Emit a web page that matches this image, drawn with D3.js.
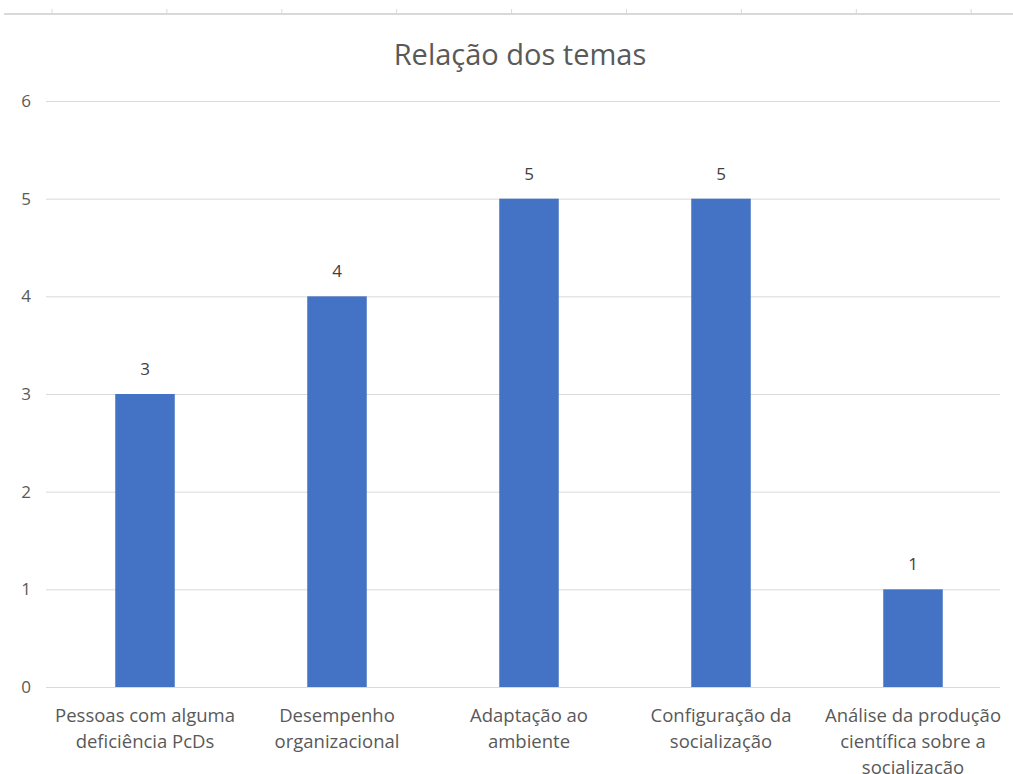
<!DOCTYPE html>
<html>
<head>
<meta charset="utf-8">
<script src="https://cdn.jsdelivr.net/npm/d3@7"></script>
<style>
  body { margin: 0; background: #fff; }
  text { font-family: "Open Sans", "Liberation Sans", sans-serif; fill: #595959; }
</style>
</head>
<body>
<div id="chart"></div>
<script>
// chart data
var categories = [
  ["Pessoas com alguma", "deficiência PcDs"],
  ["Desempenho", "organizacional"],
  ["Adaptação ao", "ambiente"],
  ["Configuração da", "socialização"],
  ["Análise da produção", "científica sobre a", "socialização"]
];
var values = [3, 4, 5, 5, 1];
var yTicks = [0, 1, 2, 3, 4, 5, 6];
var title = "Relação dos temas";

var width = 1013, height = 774;
var margin = {left: 49, right: 4, top: 101, bottom: 87};

var svg = d3.select("#chart")
    .append("svg")
    .attr("width", width)
    .attr("height", height);

// leftover sheet ruler at the top
var ruler = svg.append("g");
ruler.append("line")
    .attr("x1", 4).attr("x2", width)
    .attr("y1", 14).attr("y2", 14)
    .style("stroke", "#d9d9d9").style("stroke-width", 2);
ruler.selectAll(".rt")
    .data(d3.range(9))
    .enter().append("line")
    .attr("x1", function(d) { return 52 + d * 114.9; })
    .attr("x2", function(d) { return 52 + d * 114.9; })
    .attr("y1", 9).attr("y2", 14)
    .style("stroke", "#d9d9d9");

var x = d3.scaleBand()
    .domain(d3.range(values.length))
    .range([margin.left, width - margin.right])
    .paddingInner(0.69)
    .paddingOuter(0.345);

var y = d3.scaleLinear()
    .domain([0, 6])
    .range([height - margin.bottom, margin.top]);

// gridlines
svg.selectAll(".grid")
    .data(yTicks)
    .enter().append("line")
    .attr("x1", 46).attr("x2", 1000)
    .attr("y1", function(d) { return y(d) + 0.5; })
    .attr("y2", function(d) { return y(d) + 0.5; })
    .style("stroke", "#d9d9d9");

svg.selectAll(".ylab")
    .data(yTicks)
    .enter().append("text")
    .attr("x", 31)
    .attr("y", function(d) { return y(d) + 6; })
    .attr("text-anchor", "end")
    .style("font-size", "17px")
    .text(function(d) { return d; });

// bars
svg.selectAll(".bar")
    .data(values)
    .enter().append("rect")
    .attr("x", function(d, i) { return x(i); })
    .attr("y", function(d) { return y(d); })
    .attr("width", x.bandwidth())
    .attr("height", function(d) { return y(0) - y(d); })
    .style("fill", "#4472c4");

svg.selectAll(".val")
    .data(values)
    .enter().append("text")
    .attr("x", function(d, i) { return x(i) + x.bandwidth() / 2; })
    .attr("y", function(d) { return y(d) - 19; })
    .attr("text-anchor", "middle")
    .style("font-size", "17px")
    .style("fill", "#404040")
    .text(function(d) { return d; });

// category labels
var cat = svg.selectAll(".cat")
    .data(categories)
    .enter().append("text")
    .attr("text-anchor", "middle")
    .style("font-size", "18.5px")
    .attr("transform", function(d, i) {
        return "translate(" + (x(i) + x.bandwidth() / 2) + ",722)";
    });
cat.selectAll("tspan")
    .data(function(d) { return d; })
    .enter().append("tspan")
    .attr("x", 0)
    .attr("y", function(d, i) { return i * 26; })
    .text(function(d) { return d; });

svg.append("text")
    .attr("x", 520)
    .attr("y", 65)
    .attr("text-anchor", "middle")
    .style("font-size", "29px")
    .text(title);
</script>
</body>
</html>
